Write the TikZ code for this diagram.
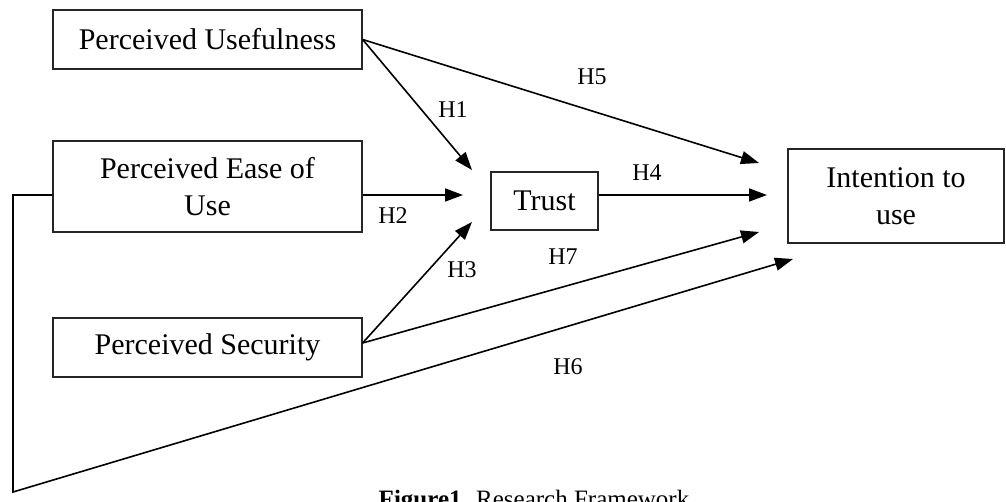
\documentclass[tikz,border=0pt]{standalone}
\usepackage{fontspec}
\setmainfont{Liberation Serif}
\usetikzlibrary{arrows.meta}

\tikzset{
  box/.style={draw=black!85, line width=0.6pt, inner sep=0pt, align=center, font=\fontsize{15}{18.5}\selectfont},
  hyp/.style={-{Triangle[length=9pt,width=6.5pt]}, line width=0.8pt},
  hlab/.style={font=\fontsize{12}{14}\selectfont, inner sep=0pt},
}

\begin{document}
\begin{tikzpicture}[x=0.5pt, y=-0.5pt]
    \useasboundingbox (0, 0) rectangle (1006, 502);

    % construits
    \node[box, minimum width=154.5pt, minimum height=29.5pt] (pu) at (207.5, 39.5) {Perceived Usefulness};
    \node[box, minimum width=154.5pt, minimum height=45.5pt] (peou) at (207.5, 186.5) {Perceived Ease of\\Use};
    \node[box, minimum width=154.5pt, minimum height=29.5pt] (ps) at (207.5, 347.5) {Perceived Security};
    \node[box, minimum width=53.5pt, minimum height=29pt] (trust) at (544.5, 201) {Trust};
    \node[box, minimum width=108pt, minimum height=47pt] (itu) at (896, 196) {Intention to\\use};

    % bouts des fleches
    \coordinate (h1end) at (472, 170);
    \coordinate (h5end) at (759, 163);
    \coordinate (h2end) at (463, 195);
    \coordinate (h3end) at (472, 222);
    \coordinate (h7end) at (759, 232);
    \coordinate (h4end) at (767, 195);
    \coordinate (h6end) at (793, 259);
    \coordinate (psout) at ([yshift=2.25pt]ps.east);
    \coordinate (lb) at (13, 492);

    % hypotheses
    \draw[hyp] (pu.east) -- (h1end);
    \draw[hyp] (pu.east) -- (h5end);
    \draw[hyp] (peou.east |- h2end) -- (h2end);
    \draw[hyp] (psout) -- (h3end);
    \draw[hyp] (psout) -- (h7end);
    \draw[hyp] (trust.east |- h4end) -- (h4end);
    \draw[hyp] (peou.west |- h2end) -| (lb) -- (h6end);

    \node[hlab] (l1) at (453, 110) {H1};
    \node[hlab] (l2) at (393, 216) {H2};
    \node[hlab] (l3) at (462, 270) {H3};
    \node[hlab] (l4) at (647, 173) {H4};
    \node[hlab] (l5) at (592, 77) {H5};
    \node[hlab] (l6) at (568, 367) {H6};
    \node[hlab] (l7) at (563, 257) {H7};

    % legende
    \node[font=\fontsize{12.5}{15}\selectfont, anchor=base] (cap) at (534, 507) {\textbf{Figure1}. Research Framework};

\end{tikzpicture}
\end{document}
